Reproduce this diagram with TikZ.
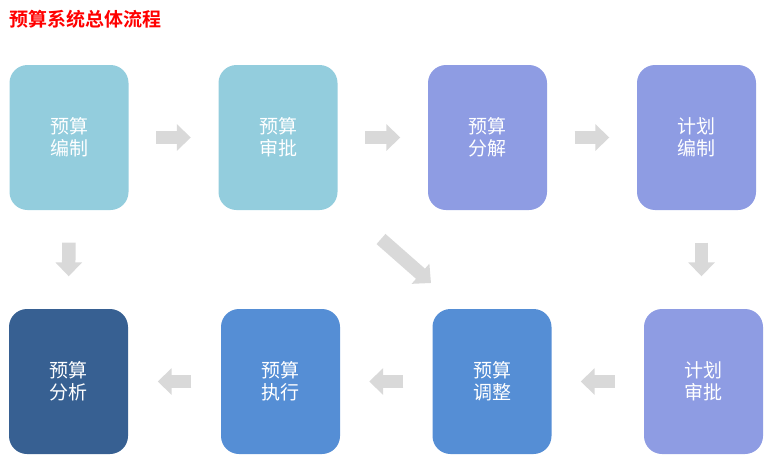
\documentclass[tikz,border=0pt]{standalone}
\usepackage{fontspec}
\newfontfamily\cjk[BoldFont={Noto Sans CJK SC Bold}]{Noto Sans CJK SC}
\usetikzlibrary{arrows.meta,calc}
\definecolor{lblue}{HTML}{93CDDD}
\definecolor{lpurple}{HTML}{8E9CE3}
\definecolor{mblue}{HTML}{558ED5}
\definecolor{dblue}{HTML}{376092}
\definecolor{arrgray}{HTML}{D9D9D9}
\definecolor{titlered}{HTML}{FF0000}
\tikzset{
  box/.style={rectangle, rounded corners=18pt, minimum width=119pt, minimum height=145pt,
    inner sep=0pt, text=white, align=center, font=\cjk\fontsize{19}{22}\selectfont},
  blockarrow/.style={draw=arrgray, line width=13.5pt, -{Triangle[length=14pt,width=26pt]}},
  harr/.style={blockarrow, shorten <=#1, shorten >=#1},
}
\begin{document}
\begin{tikzpicture}[x=1pt,y=1pt]
\useasboundingbox (0,0) rectangle (771,-471);
\node[anchor=west, inner sep=0pt, text=titlered, font=\cjk\bfseries\fontsize{19}{21}\selectfont] (title) at (9.5,-19.5) {预算系统总体流程};
% top row
\node[box, fill=lblue] (b1) at (69,-137.5) {预算\\编制};
\node[box, fill=lblue] (b2) at (278,-137.5) {预算\\审批};
\node[box, fill=lpurple] (b3) at (487.5,-137.5) {预算\\分解};
\node[box, fill=lpurple] (b4) at (696.5,-137.5) {计划\\编制};
% bottom row
\node[box, fill=dblue] (b5) at (68.5,-381.5) {预算\\分析};
\node[box, fill=mblue] (b6) at (280.5,-381.5) {预算\\执行};
\node[box, fill=mblue] (b7) at (492,-381.5) {预算\\调整};
\node[box, fill=lpurple] (b8) at (703.5,-381.5) {计划\\审批};
% arrows
\draw[harr=27.5pt] (b1) -- (b2);
\draw[harr=27.5pt] (b2) -- (b3);
\draw[harr=27.5pt] (b3) -- (b4);
\draw[harr=29.5pt] (b6) -- (b5);
\draw[harr=29pt] (b7) -- (b6);
\draw[harr=29pt] (b8) -- (b7);
\draw[harr=32.5pt] (b1) -- (b5);
\draw[blockarrow, shorten <=32.5pt, shorten >=32.5pt] ([xshift=5pt]b4.south) -- ([xshift=-2pt]b8.north);
\coordinate (d1) at (381,-239);
\coordinate (d2) at (431,-283);
\draw[blockarrow] (d1) -- (d2);
\end{tikzpicture}
\end{document}
